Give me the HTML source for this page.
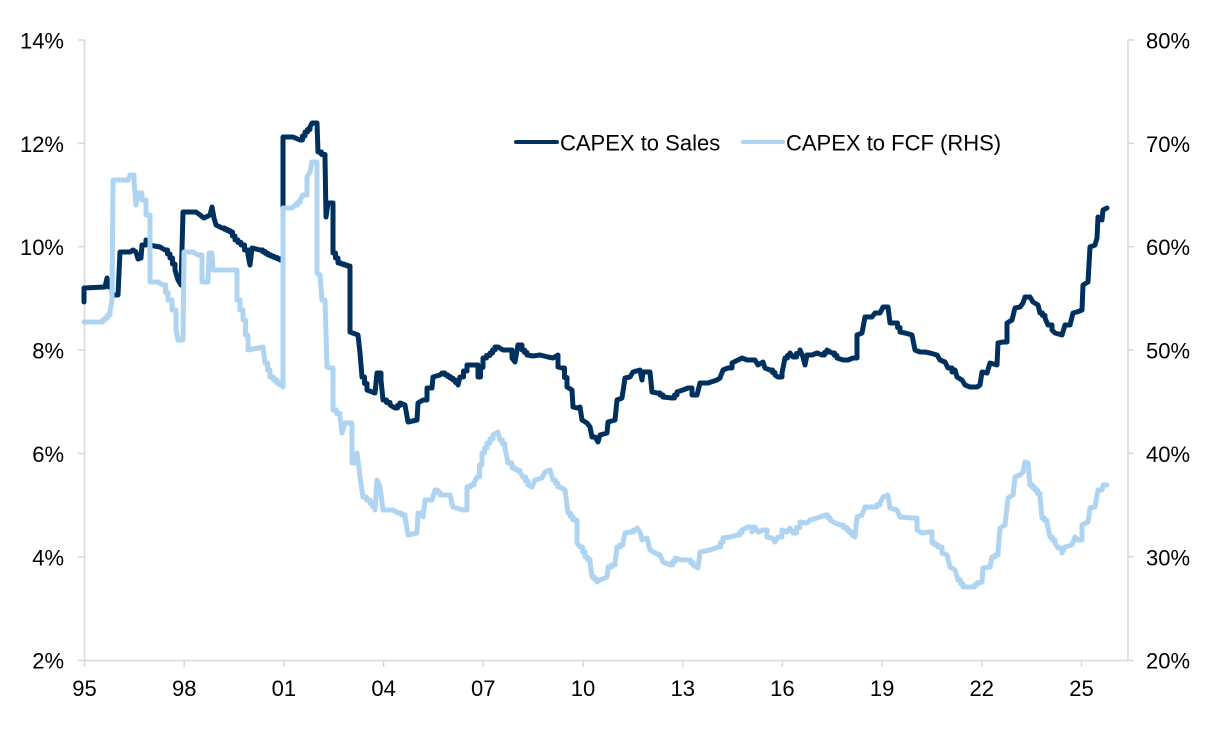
<!DOCTYPE html>
<html>
<head>
<meta charset="utf-8">
<style>
  html,body{margin:0;padding:0;background:#fff;}
  svg{display:block;}
  text{font-family:"Liberation Sans",Arial,sans-serif;font-size:22px;fill:#000;}
</style>
</head>
<body>
<svg width="1220" height="734" viewBox="0 0 1220 734" xmlns="http://www.w3.org/2000/svg">
  <rect width="1220" height="734" fill="#fff"/>
  <!-- axes -->
  <g stroke="#d9d9d9" stroke-width="1.5" fill="none">
    <line x1="84.5" y1="40" x2="84.5" y2="660.5"/>
    <line x1="1128" y1="40" x2="1128" y2="660.5"/>
    <line x1="78" y1="660.5" x2="1134" y2="660.5"/>
    <line x1="78" y1="40" x2="84.5" y2="40"/>
    <line x1="78" y1="143.3" x2="84.5" y2="143.3"/>
    <line x1="78" y1="246.7" x2="84.5" y2="246.7"/>
    <line x1="78" y1="350" x2="84.5" y2="350"/>
    <line x1="78" y1="453.4" x2="84.5" y2="453.4"/>
    <line x1="78" y1="556.8" x2="84.5" y2="556.8"/>
    <line x1="1128" y1="40" x2="1134" y2="40"/>
    <line x1="1128" y1="143.3" x2="1134" y2="143.3"/>
    <line x1="1128" y1="246.7" x2="1134" y2="246.7"/>
    <line x1="1128" y1="350" x2="1134" y2="350"/>
    <line x1="1128" y1="453.4" x2="1134" y2="453.4"/>
    <line x1="1128" y1="556.8" x2="1134" y2="556.8"/>
    <line x1="84.5" y1="660.5" x2="84.5" y2="667"/>
    <line x1="184.2" y1="660.5" x2="184.2" y2="667"/>
    <line x1="283.9" y1="660.5" x2="283.9" y2="667"/>
    <line x1="383.6" y1="660.5" x2="383.6" y2="667"/>
    <line x1="483.3" y1="660.5" x2="483.3" y2="667"/>
    <line x1="583" y1="660.5" x2="583" y2="667"/>
    <line x1="682.7" y1="660.5" x2="682.7" y2="667"/>
    <line x1="782.4" y1="660.5" x2="782.4" y2="667"/>
    <line x1="882.1" y1="660.5" x2="882.1" y2="667"/>
    <line x1="981.8" y1="660.5" x2="981.8" y2="667"/>
    <line x1="1081.5" y1="660.5" x2="1081.5" y2="667"/>
  </g>
  <g text-anchor="end">
    <text x="64" y="48.5">14%</text>
    <text x="64" y="151.8">12%</text>
    <text x="64" y="255.2">10%</text>
    <text x="64" y="358.5">8%</text>
    <text x="64" y="461.9">6%</text>
    <text x="64" y="565.3">4%</text>
    <text x="64" y="668.7">2%</text>
  </g>
  <g text-anchor="start">
    <text x="1146" y="48.5">80%</text>
    <text x="1146" y="151.8">70%</text>
    <text x="1146" y="255.2">60%</text>
    <text x="1146" y="358.5">50%</text>
    <text x="1146" y="461.9">40%</text>
    <text x="1146" y="565.3">30%</text>
    <text x="1146" y="668.7">20%</text>
  </g>
  <g text-anchor="middle">
    <text x="84.5" y="696">95</text>
    <text x="184.2" y="696">98</text>
    <text x="283.9" y="696">01</text>
    <text x="383.6" y="696">04</text>
    <text x="483.3" y="696">07</text>
    <text x="583" y="696">10</text>
    <text x="682.7" y="696">13</text>
    <text x="782.4" y="696">16</text>
    <text x="882.1" y="696">19</text>
    <text x="981.8" y="696">22</text>
    <text x="1081.5" y="696">25</text>
  </g>
  <!-- dark series -->
  <polyline class="step" fill="none" stroke="#00305D" stroke-width="5" stroke-linejoin="round" stroke-linecap="round"
    points="84,302 84,288 105,287 107,278 109,287 112,287 112,295 118,295 120,252 130,252 133,250 136,252 138,259 141,258 142,245 146,240 149,245 160,247 165,250 170,258 175,270 178,280 181,285 183,212 196,212 200,215 204,218 210,215 212,207 214,218 216,225 222,228 230,232 235,240 241,245 248,255 250,265 252,248 260,250 268,255 280,260 283,260 283,137 293,137 300,140 305,132 310,127 312,123 317,123 318,152 325,157 326,217 328,203 333,203 333,253 338,263 350,267 350,332 358,335 360,353 362,377 367,390 375,393 377,373 381,380 383,400 390,405 395,408 400,403 405,405 408,422 417,420 418,403 423,400 427,388 432,388 433,377 440,375 442,373 453,380 458,385 460,377 467,365 474,365 478,377 483,358 490,353 495,347 498,347 503,350 508,350 512,358 515,362 518,345 522,350 527,355 533,356 540,355 548,357 553,358 558,355 558,367 562,368 567,387 572,390 573,407 577,408 580,407 582,420 587,423 590,427 592,437 595,437 598,442 600,435 607,433 608,422 615,420 617,400 622,398 625,378 630,377 633,372 640,370 642,380 643,372 650,372 652,392 657,393 663,397 672,398 677,392 683,390 688,388 692,395 697,395 700,383 708,383 717,380 720,378 723,370 728,368 732,363 738,360 742,358 747,360 755,360 758,365 763,362 765,368 770,370 775,375 778,377 782,373 785,358 790,353 793,357 800,350 803,357 805,365 807,355 812,355 817,353 822,355 827,350 832,353 837,358 843,360 848,360 853,358 857,335 862,333 865,317 872,317 875,313 880,313 883,307 888,307 890,323 895,323 900,332 905,333 912,335 915,350 920,352 925,352 930,353 937,355 940,360 945,362 948,368 952,372 955,370 957,377 962,380 965,385 970,387 977,387 980,385 982,372 987,373 990,363 997,365 998,343 1003,342 1007,323 1012,320 1015,308 1020,307 1023,303 1025,297 1030,297 1033,302 1038,305 1040,313 1045,318 1048,325 1052,330 1055,333 1062,335 1065,325 1070,325 1073,313 1077,312 1082,310 1083,285 1088,282 1090,247 1095,245 1097,238 1098,217 1102,220 1103,210 1107,208"/>
  <!-- light series -->
  <polyline class="step" fill="none" stroke="#AED4F1" stroke-width="5" stroke-linejoin="round" stroke-linecap="round"
    points="84,322 100,322 105,318 110,312 112,300 113,180 128,180 130,175 134,180 136,205 138,193 142,200 146,215 150,220 150,282 158,282 163,285 168,300 172,310 176,330 178,340 183,340 184,252 193,252 198,255 202,282 208,282 209,253 212,253 213,270 233,270 237,300 243,320 248,350 263,347 265,363 270,377 277,383 283,387 283,208 292,208 295,205 300,200 303,195 307,177 310,172 312,162 317,162 317,273 320,275 322,300 325,300 327,367 330,368 333,368 333,410 340,417 342,433 345,423 348,423 352,463 357,453 360,477 363,497 370,503 375,510 377,480 380,487 383,510 393,510 398,513 405,517 408,535 417,533 418,513 423,517 425,500 432,500 435,490 440,495 450,495 453,507 463,510 467,487 474,483 477,477 482,453 487,443 493,435 498,432 500,440 505,448 508,463 512,468 520,472 523,477 528,485 532,487 535,480 542,478 545,472 550,470 553,480 558,487 562,488 565,490 568,513 573,520 577,543 580,547 585,557 590,562 592,577 597,582 600,580 607,577 608,567 615,563 617,547 623,543 625,533 630,532 637,528 640,532 642,540 647,538 650,550 655,553 660,555 663,562 670,565 675,558 682,560 688,560 693,565 698,568 700,552 710,550 718,547 723,538 730,537 737,535 742,530 748,527 752,532 755,527 758,532 763,530 767,537 772,538 775,542 778,537 782,530 787,532 790,528 793,533 800,522 807,523 810,520 817,518 820,517 825,515 830,520 835,523 840,525 847,530 852,535 855,537 857,517 862,515 865,507 873,507 880,503 883,497 888,495 890,508 897,510 900,517 913,518 917,530 922,533 928,532 932,543 938,547 942,553 947,555 950,567 955,570 958,580 963,587 972,587 977,583 982,582 983,568 990,567 992,557 998,553 1000,528 1005,525 1008,498 1013,495 1015,477 1020,475 1023,472 1025,462 1028,463 1030,485 1035,490 1040,497 1042,518 1047,523 1050,537 1055,543 1058,548 1062,553 1065,547 1072,545 1075,537 1078,540 1082,525 1088,522 1090,508 1095,507 1098,490 1102,490 1103,485 1107,485"/>
  <!-- legend -->
  <line x1="516" y1="142" x2="557" y2="142" stroke="#00305D" stroke-width="4" stroke-linecap="round"/>
  <text x="560" y="150.5">CAPEX to Sales</text>
  <line x1="743" y1="142" x2="783" y2="142" stroke="#AED4F1" stroke-width="4" stroke-linecap="round"/>
  <text x="786" y="150.5">CAPEX to FCF (RHS)</text>
</svg>
<script>
(function(){
  var pls=document.querySelectorAll('polyline.step');
  for(var i=0;i<pls.length;i++){
    var p=pls[i];
    var raw=p.getAttribute('points').trim().split(/\s+/).map(function(s){var a=s.split(',');return [parseFloat(a[0]),parseFloat(a[1])];});
    var out=[raw[0]];
    for(var j=1;j<raw.length;j++){
      var a=raw[j-1],b=raw[j];
      var dx=b[0]-a[0],dy=b[1]-a[1];
      if(Math.abs(dx)>3&&Math.abs(dy)>3){
        var n=Math.max(1,Math.round(Math.abs(dx)/3));
        for(var k=1;k<=n;k++){
          var xs=a[0]+dx*k/n;
          var yPrev=a[1]+dy*(k-1)/n, yNew=a[1]+dy*k/n;
          out.push([xs-0.01,yPrev]);
          out.push([xs,yNew]);
        }
      } else out.push(b);
    }
    p.setAttribute('points',out.map(function(q){return q[0].toFixed(2)+','+q[1].toFixed(2);}).join(' '));
  }
})();
</script>
</body>
</html>
